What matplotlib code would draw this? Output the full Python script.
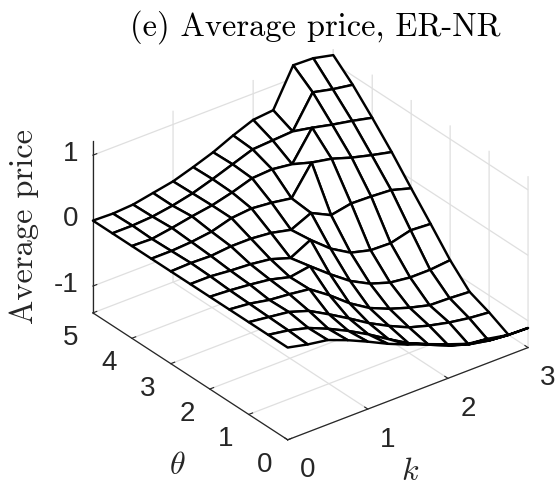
import numpy as np
import matplotlib
matplotlib.use("Agg")
import matplotlib.pyplot as plt
from mpl_toolkits.mplot3d import Axes3D  # noqa: F401

plt.rcParams["mathtext.fontset"] = "cm"

k_values = [0, .25, .5, .75, 1, 1.25, 1.5, 1.75, 2, 2.25, 2.5, 2.75, 3]
theta_values = [0, .5, 1, 1.5, 2, 2.5, 3, 3.5, 4, 4.5, 5]

z_theta_0_0 = [0, -.07, -.12, -.24, -.38, -.53, -.66, -.77, -.89, -1.00, -1.04, -1.10, -1.11]
z_theta_0_5 = [0, -.05, -.13, -.26, -.41, -.58, -.77, -.95, -1.09, -1.22, -1.32, -1.38, -1.41]
z_theta_1_0 = [0, -.04, -.08, -.18, -.35, -.53, -.72, -.88, -1.02, -1.11, -1.18, -1.23, -1.26]
z_theta_1_5 = [0, -.03, -.09, -.12, -.16, -.37, -.61, -.80, -.93, -1.03, -1.11, -1.12, -1.14]
z_theta_2_0 = [0, -.02, -.05, -.09, -.17, -.12, -.36, -.58, -.74, -.84, -.88, -.88, -.85]
z_theta_2_5 = [0, 0, -.03, -.05, -.09, -.19, -.03, -.28, -.46, -.54, -.55, -.47, -.49]
z_theta_3_0 = [0, .01, 0, .03, .03, 0, -.07, .07, -.08, -.02, -.03, -.05, -.14]
z_theta_3_5 = [0, .0, .02, .06, .15, .18, .15, .10, .53, .47, .37, .29, .22]
z_theta_4_0 = [0, -.01, .04, .10, .15, .23, .33, .35, .31, .75, .68, .62, .55]
z_theta_4_5 = [0, 0, .02, .07, .14, .24, .35, .46, .48, .50, .98, .91, .86]
z_theta_5_0 = [0, -.01, .01, .07, .13, .23, .34, .48, .60, .63, 1.20, 1.19, 1.12]

rows = [z_theta_0_0, z_theta_0_5, z_theta_1_0, z_theta_1_5, z_theta_2_0, z_theta_2_5,
        z_theta_3_0, z_theta_3_5, z_theta_4_0, z_theta_4_5, z_theta_5_0]

k_ticks = [0, 1, 2, 3]
theta_ticks = [0, 1, 2, 3, 4, 5]
z_ticks = [-1, 0, 1]

W, H = 560, 487
fig = plt.figure(figsize=(W / 100, H / 100), dpi=100, facecolor="white")
ax = fig.add_subplot(projection="3d", proj_type="ortho")
ax.set_position([64 / W, -4 / H, 480 / W, 480 / H])
ax.view_init(elev=30, azim=-127.5)
ax.set_box_aspect((303, 320, 198), zoom=0.977)
ax.patch.set_alpha(0)

K, T = np.meshgrid(k_values, theta_values)
Z = np.array(rows)
ax.plot_surface(K, T, Z, rstride=1, cstride=1, color="white", edgecolor="black",
                linewidth=1.75, shade=False, antialiased=True)

ax.set_xlim(0, 3)
ax.set_ylim(0, 5)
ax.set_zlim(-1.41, 1.21)
ax.set_xticks(k_ticks)
ax.set_yticks(theta_ticks)
ax.set_zticks(z_ticks)
ax.set_zticklabels(["-1", "0", "1"])

GRID = "#dfdfdf"
DARK = "#262626"
pads = {"x": 10.5, "y": 9, "z": -2}
for name, axis in (("x", ax.xaxis), ("y", ax.yaxis), ("z", ax.zaxis)):
    axis.set_pane_color((1, 1, 1, 0))
    axis.pane.set_edgecolor((1, 1, 1, 0))
    axis.line.set_color(DARK)
    axis.line.set_linewidth(0.9)
    axis._axinfo["grid"].update(color=GRID, linewidth=0.9, linestyle="-")
    axis._axinfo["tick"].update(inward_factor=0.0, outward_factor=0.2, linewidth={True: 0.8, False: 0.5})
    axis.set_tick_params(labelsize=20, colors=DARK, labelfontfamily="Liberation Sans", pad=pads[name])
    for lab in axis.get_ticklabels():
        lab.set_va("center")
        if name == "z":
            lab.set_ha("right")

fig.text(177 / W, 1 - 466 / H, r"$\theta$", fontsize=23, ha="center", va="center", color="#262626")
fig.text(410 / W, 1 - 471 / H, r"$k$", fontsize=23, ha="center", va="center", color="#262626")
fig.text(24 / W, 1 - 226 / H, "Average price", fontsize=23.4, family="cmr10", rotation=90,
         ha="center", va="center", color="#262626")
fig.text(315 / W, 1 - 27 / H, "(e) Average price, ER-NR", fontsize=23.4, family="cmr10",
         ha="center", va="center", color="black")

fig.savefig("out.png", dpi=100)
